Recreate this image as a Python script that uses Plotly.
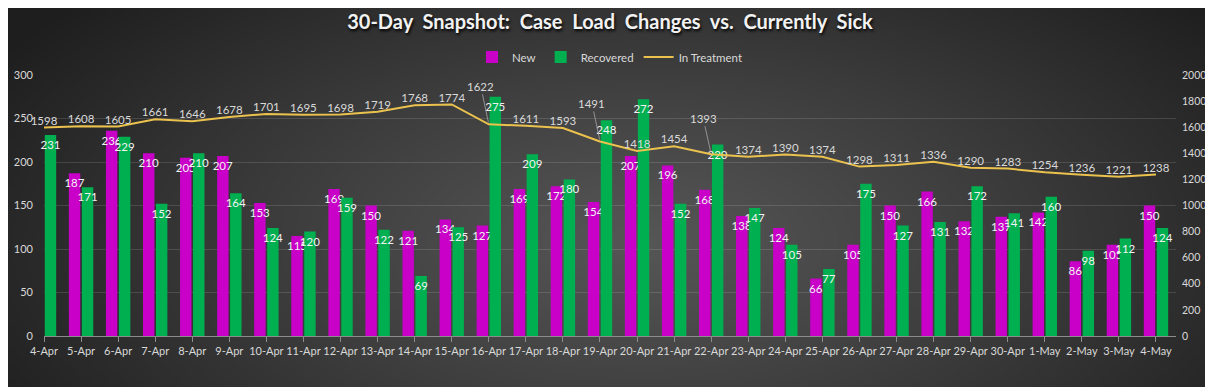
import base64, struct, zlib
import numpy as np
import plotly.graph_objects as go

dates = ["4-Apr", "5-Apr", "6-Apr", "7-Apr", "8-Apr", "9-Apr", "10-Apr", "11-Apr", "12-Apr", "13-Apr",
         "14-Apr", "15-Apr", "16-Apr", "17-Apr", "18-Apr", "19-Apr", "20-Apr", "21-Apr", "22-Apr", "23-Apr",
         "24-Apr", "25-Apr", "26-Apr", "27-Apr", "28-Apr", "29-Apr", "30-Apr", "1-May", "2-May", "3-May", "4-May"]
new_cases = [None, 187, 236, 210, 205, 207, 153, 115, 169, 150,
             121, 134, 127, 169, 172, 154, 207, 196, 168, 138,
             124, 66, 105, 150, 166, 132, 137, 142, 86, 105, 150]
recovered = [231, 171, 229, 152, 210, 164, 124, 120, 159, 122,
             69, 125, 275, 209, 180, 248, 272, 152, 220, 147,
             105, 77, 175, 127, 131, 172, 141, 160, 98, 112, 124]
in_treatment = [1598, 1608, 1605, 1661, 1646, 1678, 1701, 1695, 1698, 1719,
                1768, 1774, 1622, 1611, 1593, 1491, 1418, 1454, 1393, 1374,
                1390, 1374, 1298, 1311, 1336, 1290, 1283, 1254, 1236, 1221, 1238]
# labels moved away from the line (with leader lines) in the original
moved_labels = {"16-Apr": (-8, -38), "19-Apr": (-8, -38), "22-Apr": (-8, -36)}

MAGENTA = "#C800C8"
GREEN = "#00B050"
GOLD = "#EBC24E"
LABEL = "#D9D9D9"
FONT = "Lato"
W, H = 1213, 387
OFF = 8  # page body offset of the figure in the browser window
ML, MT, MR, MB = 44 - OFF, 75 - OFF, 45, 59
PW, PH = W - ML - MR, H - MT - MB


def gradient_png(w=400, h=128):
    yy, xx = np.mgrid[0:h, 0:w]
    cx, cy = 0.52 * w, 0.60 * h
    d = np.sqrt(((xx - cx) / (0.62 * w)) ** 2 + ((yy - cy) / (0.95 * h)) ** 2)
    d = np.clip(d, 0, 1)
    v = (0x56 + (0x1e - 0x56) * d ** 1.1).astype(np.uint8)
    raw = b"".join(b"\x00" + bytes(np.repeat(row, 3)) for row in v)

    def chunk(t, data):
        c = struct.pack(">I", len(data)) + t + data
        return c + struct.pack(">I", zlib.crc32(t + data) & 0xffffffff)

    png = b"\x89PNG\r\n\x1a\n" + chunk(b"IHDR", struct.pack(">IIBBBBB", w, h, 8, 2, 0, 0, 0))
    png += chunk(b"IDAT", zlib.compress(raw, 9)) + chunk(b"IEND", b"")
    return "data:image/png;base64," + base64.b64encode(png).decode()


line_text = ["" if d in moved_labels else str(v) for d, v in zip(dates, in_treatment)]

fig = go.Figure()
fig.add_trace(go.Bar(
    x=dates, y=new_cases, name="New", marker=dict(color=MAGENTA, line=dict(width=0)),
    text=[("" if v is None else str(v)) for v in new_cases], textposition="inside",
    insidetextanchor="end", constraintext="none", textangle=0,
    textfont=dict(family=FONT, size=11.5, color="#F2F2F2"), yaxis="y",
))
fig.add_trace(go.Bar(
    x=dates, y=recovered, name="Recovered", marker=dict(color=GREEN, line=dict(width=0)),
    text=[str(v) for v in recovered], textposition="inside",
    insidetextanchor="end", constraintext="none", textangle=0, cliponaxis=False,
    textfont=dict(family=FONT, size=11.5, color="#F2F2F2"), yaxis="y",
))
fig.add_trace(go.Scatter(
    x=dates, y=in_treatment, name="In Treatment", mode="lines+text",
    line=dict(color=GOLD, width=2), text=line_text, textposition="top center",
    textfont=dict(family=FONT, size=11.5, color=LABEL), yaxis="y2", cliponaxis=False,
))

annotations = []
for d, v in zip(dates, in_treatment):
    if d in moved_labels:
        ax, ay = moved_labels[d]
        annotations.append(dict(
            x=d, y=v, xref="x", yref="y2", text=str(v), showarrow=True, arrowhead=0,
            arrowwidth=0.8, arrowcolor="#A6A6A6", ax=ax, ay=ay, standoff=2,
            font=dict(family=FONT, size=11.5, color=LABEL),
        ))

title_text = "\u00a0 ".join("30-Day Snapshot: Case Load Changes vs. Currently Sick".split(" "))

fig.update_layout(
    width=W, height=H,
    margin=dict(l=ML, r=MR, t=MT, b=MB, autoexpand=False),
    paper_bgcolor="#333333", plot_bgcolor="rgba(0,0,0,0)",
    images=[dict(source=gradient_png(), xref="paper", yref="paper", x=-ML / PW, y=1 + MT / PH,
                 sizex=W / PW, sizey=H / PH, xanchor="left", yanchor="top",
                 sizing="stretch", layer="below")],
    title=dict(text=title_text, x=0.5, xref="paper", xanchor="center",
               yref="container", y=1 - (22 - OFF) / H, yanchor="middle",
               font=dict(family=FONT, size=20, color="#F2F2F2", weight="bold",
                         shadow="1px 2px 3px #000000")),
    barmode="group", bargap=0.30, bargroupgap=0.12,
    showlegend=True,
    legend=dict(orientation="h", x=0.5, xanchor="center", yref="container", y=1 - (57 - OFF) / H,
                yanchor="middle", font=dict(family=FONT, size=11.5, color=LABEL),
                bgcolor="rgba(0,0,0,0)", itemwidth=30, traceorder="normal"),
    xaxis=dict(type="category", range=[0, 30.54], showgrid=False, showline=True,
               linecolor="#8C8C8C", linewidth=1, ticks="outside", ticklen=5, tickcolor="#8C8C8C",
               tickangle=0, automargin=False,
               tickfont=dict(family=FONT, size=11, color=LABEL), zeroline=False),
    yaxis=dict(range=[0, 300], dtick=50, showgrid=True, gridcolor="rgba(255,255,255,0.13)",
               gridwidth=1, zeroline=False, showline=False, automargin=False,
               tickfont=dict(family=FONT, size=11, color=LABEL), ticks="", ticklabelstandoff=10),
    yaxis2=dict(range=[0, 2000], dtick=200, overlaying="y", side="right", showgrid=False,
                zeroline=False, showline=False, automargin=False,
                tickfont=dict(family=FONT, size=10.5, color=LABEL), ticks="", ticklabelstandoff=5),
    annotations=annotations,
)

fig.write_html("out.html")
